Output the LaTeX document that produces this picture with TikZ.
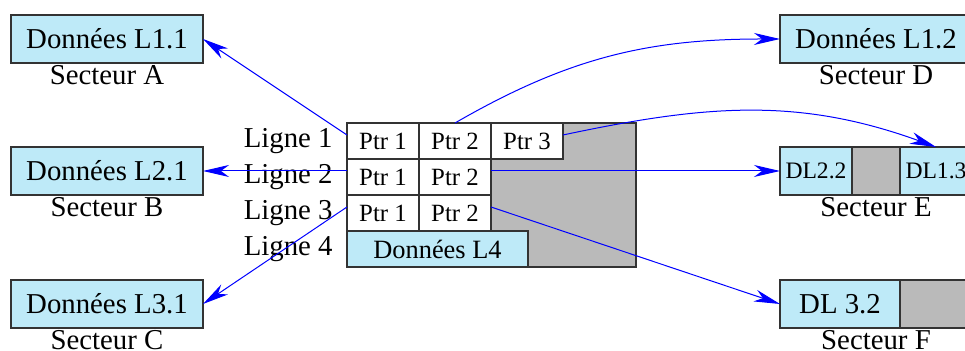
\documentclass[tikz,border=0pt]{standalone}
\usepackage{fontspec}
\setmainfont{Liberation Serif}
\usetikzlibrary{positioning,fit,arrows.meta}
\definecolor{donnee}{RGB}{190,234,248}
\definecolor{vide}{RGB}{186,186,186}

\begin{document}
\begin{tikzpicture}
    [x=0.5pt, y=0.5pt,
    big/.style={font=\fontsize{14.4}{17}\selectfont},
    zone/.style={rectangle, draw=black!80, line width=0.7pt, fill=donnee,
        minimum height=24pt, inner sep=0pt, outer sep=0pt},
    data/.style={zone, big, minimum width=96pt},
    secteur/.style={inner sep=0pt, label={[big, label distance=-2.5pt]below:#1}},
    cell/.style={rectangle, draw=black!80, line width=0.7pt, fill=white,
        minimum width=36pt, minimum height=18pt, inner sep=0pt, outer sep=0pt,
        font=\fontsize{12.4}{14}\selectfont},
    ptr/.style={draw=blue, line width=0.5pt,
        -{Stealth[length=13pt, width=6pt, inset=4pt]}}
    ]
    \useasboundingbox (0,0) rectangle (965,351);

    % Left sectors
    \node (l11) [data, secteur=Secteur A] at (107,312) {Données L1.1};
    \node (l21) [data, secteur=Secteur B] at (107,180) {Données L2.1};
    \node (l31) [data, secteur=Secteur C] at (107,47) {Données L3.1};

    % Right sectors
    \node (d) [data, secteur=Secteur D] at (876,312) {Données L1.2};
    \node (e1) [zone, minimum width=36pt, font=\fontsize{11.8}{14}\selectfont] at (816,180) {DL2.2};
    \node (e2) [zone, fill=vide, minimum width=24pt, right=0pt of e1] {};
    \node (e3) [zone, minimum width=36pt, font=\fontsize{11.8}{14}\selectfont, right=0pt of e2] {DL1.3};
    \node [fit=(e1) (e3), secteur=Secteur E] {};
    \node (f1) [zone, big, minimum width=60pt] at (840,47) {DL 3.2};
    \node (f2) [zone, fill=vide, minimum width=36pt, right=0pt of f1] {};
    \node [fit=(f1) (f2), secteur=Secteur F] {};

    % Table
    \node (table) [rectangle, draw=black!80, line width=0.7pt, fill=vide,
        minimum width=144.5pt, minimum height=72pt, inner sep=0pt, outer sep=0pt]
        at (491.5,156) {};
    \node (p11) [cell, anchor=north west] at (table.north west) {Ptr 1};
    \node (p12) [cell, right=0pt of p11] {Ptr 2};
    \node (p13) [cell, right=0pt of p12] {Ptr 3};
    \node (p21) [cell, below=0pt of p11] {Ptr 1};
    \node (p22) [cell, right=0pt of p21] {Ptr 2};
    \node (p31) [cell, below=0pt of p21] {Ptr 1};
    \node (p32) [cell, right=0pt of p31] {Ptr 2};
    \node (l4) [zone, minimum width=90.5pt, minimum height=18pt,
        font=\fontsize{13.2}{15}\selectfont, below right=0pt and 0pt of p31.south west]
        {Données L4};

    \node (lig1) [big, left=3.7pt of p11] {Ligne 1};
    \node (lig2) [big, left=3.7pt of p21] {Ligne 2};
    \node (lig3) [big, left=3.7pt of p31] {Ligne 3};
    \node (lig4) [big, left=3.7pt of l4] {Ligne 4};

    \draw [ptr] ([yshift=3pt]p11.west) -- (l11.east);
    \draw [ptr] ([yshift=3pt]p21.west) -- (l21.east);
    \draw [ptr] ([yshift=3pt]p31.west) -- (l31.east);
    \draw [ptr] (p12.north) to[out=30, in=180] (d.west);
    \draw [ptr] ([yshift=3pt]p13.east) to[out=12, in=160] (e3.north);
    \draw [ptr] ([yshift=3pt]p22.east) -- (e1.west);
    \draw [ptr] ([yshift=3pt]p32.east) -- (f1.west);
\end{tikzpicture}
\end{document}
